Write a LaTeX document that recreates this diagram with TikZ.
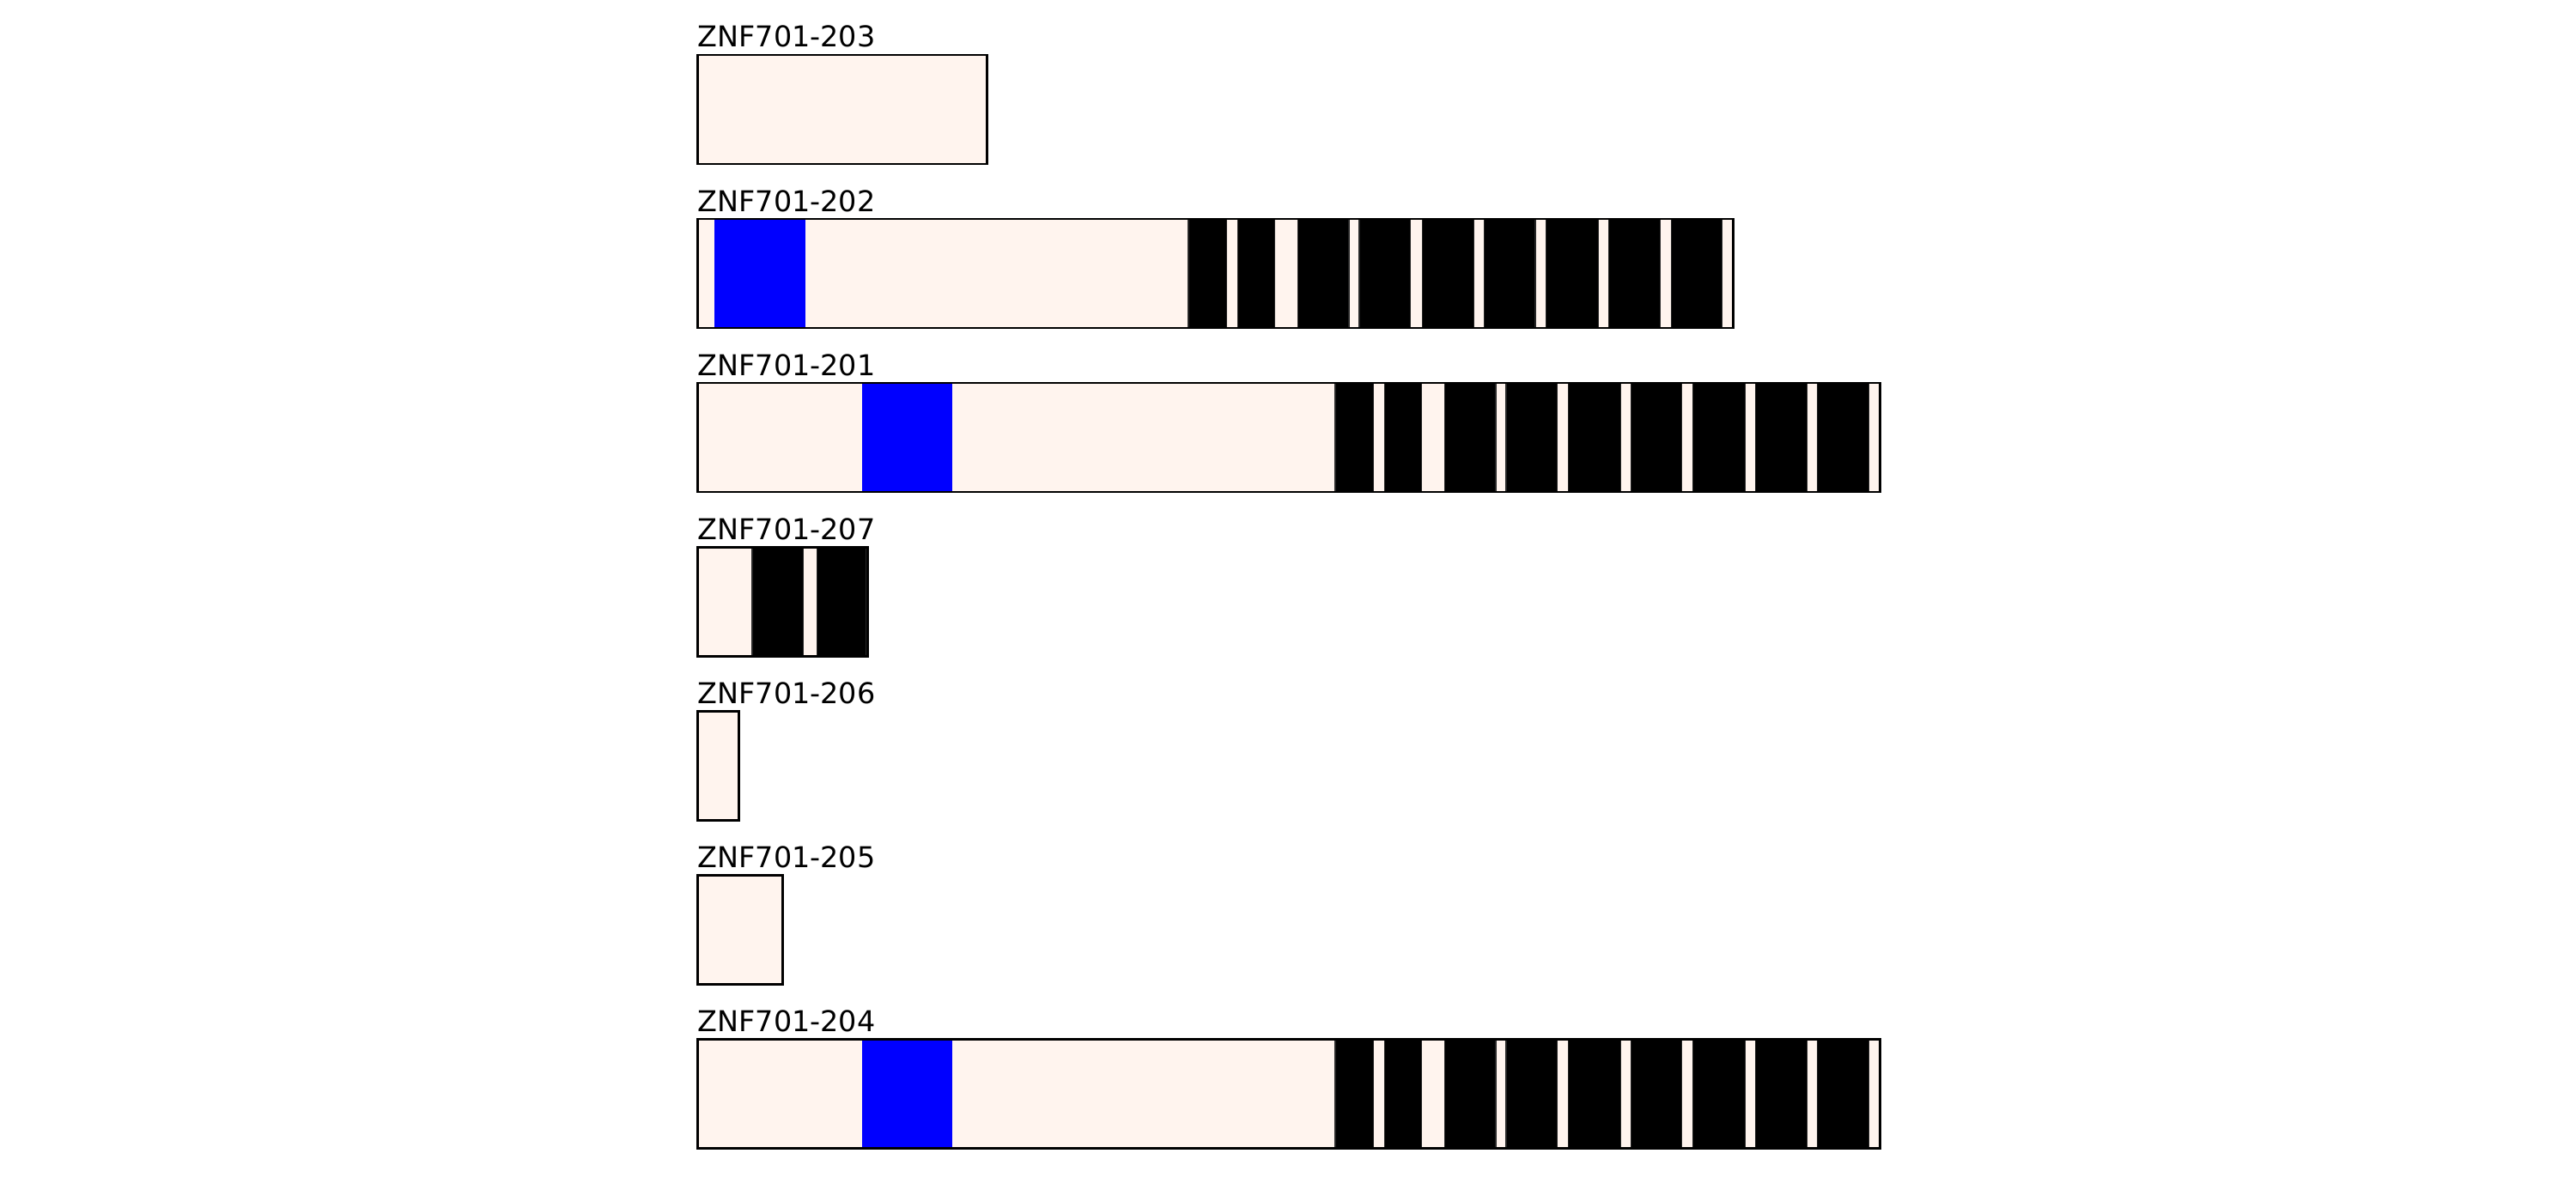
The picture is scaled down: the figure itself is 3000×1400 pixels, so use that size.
\documentclass[tikz,border=0pt]{standalone}
\usepackage{fontspec}
\setmainfont{DejaVu Sans}
\definecolor{utr}{HTML}{FFF4EE}
\definecolor{dom}{HTML}{0000FF}
\tikzset{
  lbl/.style={anchor=base west, inner sep=0pt, font=\fontsize{9.5pt}{11pt}\selectfont},
  txbox/.style={draw=black, line width=0.85pt},
  bgfill/.style={fill=utr},
  zf/.style={fill=black, draw=black!85, line width=0.3pt},
  bluefill/.style={fill=dom}
}
\begin{document}
\begin{tikzpicture}[x=0.01cm,y=-0.01cm]
\useasboundingbox (0,0) rectangle (3000,1400);
% ZNF701-203
\node[lbl] (l203) at (812,55) {ZNF701-203};
\fill[bgfill] (812,64) rectangle (1149,191);
\draw[txbox] (812,64) rectangle (1149,191);
% ZNF701-202
\node[lbl] (l202) at (812,246) {ZNF701-202};
\fill[bgfill] (812,255) rectangle (2018,382);
\fill[bluefill] (832,255) rectangle (938,382);
\foreach \a/\b in {1384/1428.1,1441.1/1484.8,1511.2/1571,1583/1642.9,1656.3/1716.1,1728.1/1788,1800.9/1861.2,1873.2/1933,1946/2005.8}
  \filldraw[zf] (\a,255) rectangle (\b,382);
\draw[txbox] (812,255) rectangle (2018,382);
% ZNF701-201
\node[lbl] (l201) at (812,437) {ZNF701-201};
\fill[bgfill] (812,446) rectangle (2189,573);
\fill[bluefill] (1003.6,446) rectangle (1108.9,573);
\foreach \a/\b in {1555/1599.1,1612.1/1655.8,1682.1/1742,1754/1813.8,1826.8/1887.1,1899.1/1958.9,1971.9/2032.1,2044.2/2104,2116.9/2176.8}
  \filldraw[zf] (\a,446) rectangle (\b,573);
\draw[txbox] (812,446) rectangle (2189,573);
% ZNF701-207
\node[lbl] (l207) at (812,628) {ZNF701-207};
\fill[bgfill] (812,637) rectangle (1010,764);
\foreach \a/\b in {876/935.7,951.3/1008.3}
  \filldraw[zf] (\a,637) rectangle (\b,764);
\draw[txbox] (812,637) rectangle (1010,764);
% ZNF701-206
\node[lbl] (l206) at (812,819) {ZNF701-206};
\fill[bgfill] (812,828) rectangle (860,955);
\draw[txbox] (812,828) rectangle (860,955);
% ZNF701-205
\node[lbl] (l205) at (812,1010) {ZNF701-205};
\fill[bgfill] (812,1019) rectangle (911.7,1146);
\draw[txbox] (812,1019) rectangle (911.7,1146);
% ZNF701-204
\node[lbl] (l204) at (812,1201) {ZNF701-204};
\fill[bgfill] (812,1210) rectangle (2189,1337);
\fill[bluefill] (1003.6,1210) rectangle (1108.9,1337);
\foreach \a/\b in {1555/1599.1,1612.1/1655.8,1682.1/1742,1754/1813.8,1826.8/1887.1,1899.1/1958.9,1971.9/2032.1,2044.2/2104,2116.9/2176.8}
  \filldraw[zf] (\a,1210) rectangle (\b,1337);
\draw[txbox] (812,1210) rectangle (2189,1337);
\end{tikzpicture}
\end{document}
